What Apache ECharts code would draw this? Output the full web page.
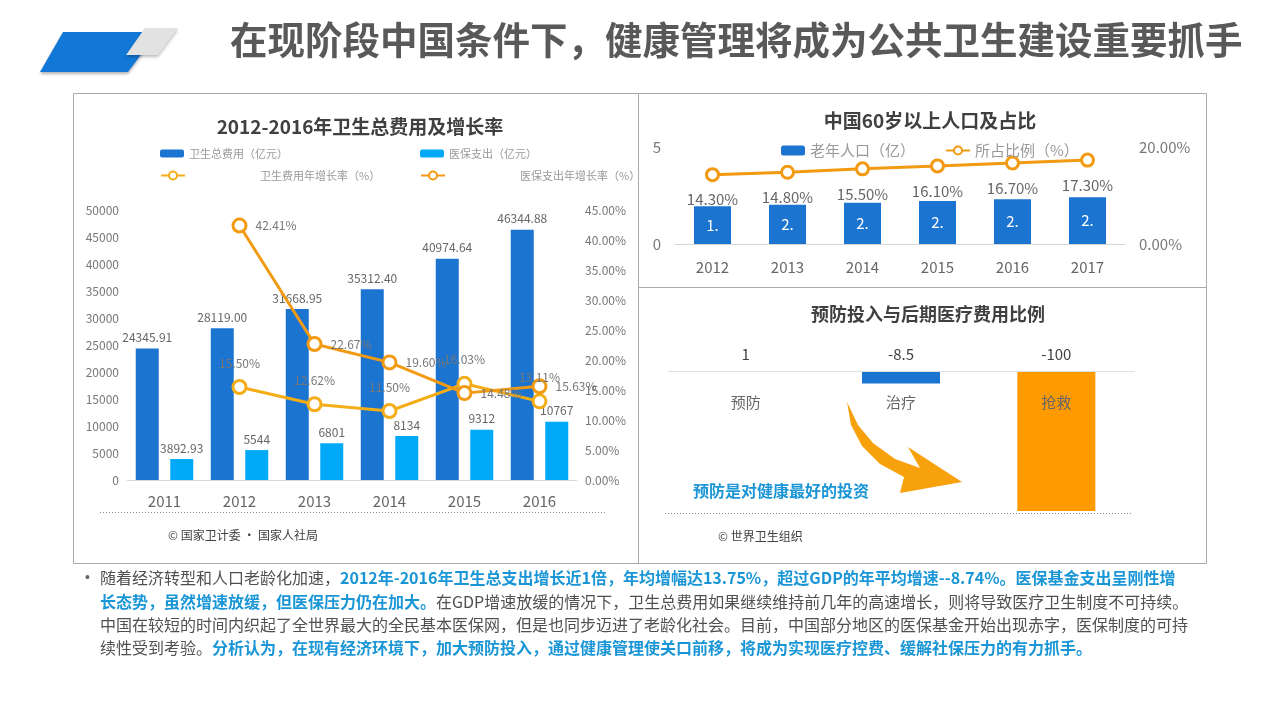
<!DOCTYPE html>
<html><head><meta charset="utf-8">
<script src="https://cdn.jsdelivr.net/npm/echarts@6/dist/echarts.min.js"></script>
<style>html,body{margin:0;padding:0;background:#fff}#c{width:1280px;height:720px}</style>
</head><body><div id="c"></div>
<script>
const years1 = ['2011','2012','2013','2014','2015','2016'];
const totalCost = [24345.91, 28119.00, 31668.95, 35312.40, 40974.64, 46344.88];
const insCost = [3892.93, 5544, 6801, 8134, 9312, 10767];
const costGrowth = [null, 15.50, 12.62, 11.50, 16.03, 13.11];
const insGrowth = [null, 42.41, 22.67, 19.60, 14.48, 15.63];
const leftTicks = [0, 50000];
const rightTicks = [0, 45];

const years2 = ['2012','2013','2014','2015','2016','2017'];
const elderPop = [1.94, 2.02, 2.12, 2.22, 2.31, 2.41];
const elderShare = [14.30, 14.80, 15.50, 16.10, 16.70, 17.30];

const stages = ['预防','治疗','抢救'];
const stageValues = [1, -8.5, -100];

const font = '"Microsoft YaHei","Noto Sans CJK SC",sans-serif';
const chart = echarts.init(document.getElementById('c'));
const blue = '#1b74d0', lblue = '#00aaf8', yel = '#f5ad17', org = '#f19a12';
const TB = '#1a96d6';
const FS = 16;
const rich = {n:{fontSize:FS,fontFamily:font,fill:'#505050'},b:{fontSize:FS,fontWeight:'bold',fontFamily:font,fill:TB}};

chart.setOption({
  textStyle:{fontFamily:font},
  animation:false,
  title:[
    {text:'2012-2016年卫生总费用及增长率',left:355,top:112,textAlign:'center',textStyle:{fontSize:19,fontWeight:'bold',color:'#404040',fontFamily:font}},
    {text:'中国60岁以上人口及占比',left:925,top:106,textAlign:'center',textStyle:{fontSize:19,fontWeight:'bold',color:'#404040',fontFamily:font}},
    {text:'预防投入与后期医疗费用比例',left:923,top:300,textAlign:'center',textStyle:{fontSize:18,fontWeight:'bold',color:'#404040',fontFamily:font}}
  ],
  legend:[
    {left:155,top:143,itemWidth:24,itemHeight:8,data:['卫生总费用（亿元）'],textStyle:{color:'#999',fontSize:11}},
    {left:415,top:143,itemWidth:24,itemHeight:8,data:['医保支出（亿元）'],textStyle:{color:'#999',fontSize:11}},
    {left:155,top:165,itemWidth:24,itemHeight:10,data:['卫生费用年增长率（%）'],textStyle:{color:'#999',fontSize:11,padding:[0,0,0,70]}},
    {left:415,top:165,itemWidth:24,itemHeight:10,data:['医保支出年增长率（%）'],textStyle:{color:'#999',fontSize:11,padding:[0,0,0,70]}},
    {left:776,top:138,itemWidth:24,itemHeight:10,itemGap:30,data:['老年人口（亿）','所占比例（%）'],textStyle:{color:'#999',fontSize:15}}
  ],
  grid:[
    {left:127,width:450,top:210,height:270},
    {left:675,width:450,top:147,height:97},
    {left:668,width:466,top:371.6,height:139.4}
  ],
  xAxis:[
    {gridIndex:0,type:'category',data:years1,axisTick:{show:false},axisLine:{lineStyle:{color:'#d9d9d9'}},axisLabel:{color:'#666',fontSize:15,margin:14}},
    {gridIndex:1,type:'category',data:years2,axisTick:{show:false},axisLine:{lineStyle:{color:'#d9d9d9'}},axisLabel:{color:'#666',fontSize:15,margin:16}},
    {gridIndex:2,type:'category',position:'top',data:stages,z:5,axisTick:{show:false},axisLine:{lineStyle:{color:'#e0e0e0'}},axisLabel:{color:'#666',fontSize:15,margin:-38}},
    {gridIndex:2,type:'category',position:'top',data:stageValues.map(String),axisTick:{show:false},axisLine:{show:false},axisLabel:{color:'#404040',fontSize:15,margin:10}}
  ],
  yAxis:[
    {gridIndex:0,type:'value',min:leftTicks[0],max:leftTicks[1],interval:5000,splitLine:{show:false},axisLabel:{color:'#777',fontSize:12,formatter:v=>String(v)}},
    {gridIndex:0,type:'value',min:rightTicks[0],max:rightTicks[1],interval:5,splitLine:{show:false},axisLabel:{color:'#777',fontSize:12,formatter:v=>v.toFixed(2)+'%'}},
    {gridIndex:1,type:'value',min:0,max:5,interval:5,splitLine:{show:false},axisLabel:{color:'#777',fontSize:15,margin:14}},
    {gridIndex:1,type:'value',min:0,max:20,interval:20,splitLine:{show:false},axisLabel:{color:'#777',fontSize:15,margin:14,formatter:v=>v.toFixed(2)+'%'}},
    {gridIndex:2,type:'value',min:-100,max:0,show:false,splitLine:{show:false}}
  ],
  series:[
    {name:'卫生总费用（亿元）',type:'bar',xAxisIndex:0,yAxisIndex:0,data:totalCost,barWidth:23,barGap:'50%',itemStyle:{color:blue},
      label:{show:true,position:'top',color:'#666',fontSize:12,formatter:p=>p.value.toFixed(2)}},
    {name:'医保支出（亿元）',type:'bar',xAxisIndex:0,yAxisIndex:0,data:insCost,barWidth:23,itemStyle:{color:lblue},
      label:{show:true,position:'top',color:'#666',fontSize:12}},
    {name:'卫生费用年增长率（%）',type:'line',xAxisIndex:0,yAxisIndex:1,data:costGrowth,symbol:'circle',symbolSize:13,
      lineStyle:{color:yel,width:3},itemStyle:{color:'#fff',borderColor:yel,borderWidth:3},
      label:{show:true,position:'top',distance:10,color:'#777',fontSize:12,formatter:p=>p.value.toFixed(2)+'%'}},
    {name:'医保支出年增长率（%）',type:'line',xAxisIndex:0,yAxisIndex:1,data:insGrowth,symbol:'circle',symbolSize:13,
      lineStyle:{color:org,width:3},itemStyle:{color:'#fff',borderColor:org,borderWidth:3},
      label:{show:true,position:'right',distance:8,color:'#777',fontSize:12,formatter:p=>p.value.toFixed(2)+'%'}},
    {name:'老年人口（亿）',type:'bar',xAxisIndex:1,yAxisIndex:2,data:elderPop,barWidth:37,itemStyle:{color:blue},
      label:{show:true,position:'inside',color:'#fff',fontSize:15,formatter:p=>p.value.toFixed(2).slice(0,2)}},
    {name:'所占比例（%）',type:'line',xAxisIndex:1,yAxisIndex:3,data:elderShare,symbol:'circle',symbolSize:12,
      lineStyle:{color:org,width:3},itemStyle:{color:'#fff',borderColor:org,borderWidth:3},
      label:{show:true,position:'bottom',distance:10,color:'#666',fontSize:15,formatter:p=>p.value.toFixed(2)+'%'}},
    {type:'bar',xAxisIndex:2,yAxisIndex:4,barWidth:78,data:stageValues.map((v,i)=>({value:v,itemStyle:{color:['#1b74d0','#1b74d0','#ff9a00'][i]}}))}
  ],
  graphic:[
    {type:'polygon',shape:{points:[[63,32],[158,32],[128,72],[40,72]]},style:{fill:'#1277d6',shadowBlur:3,shadowColor:'rgba(0,0,0,0.3)',shadowOffsetY:2}},
    {type:'polygon',shape:{points:[[145,28],[178,28],[158,55],[126,55]]},style:{fill:'#e2e2e2',shadowBlur:3,shadowColor:'rgba(0,0,0,0.25)',shadowOffsetY:2}},
    {type:'text',x:230,y:21,style:{text:'在现阶段中国条件下，健康管理将成为公共卫生建设重要抓手',fontSize:37.5,fontWeight:'bold',fontFamily:font,fill:'#595959'}},
    {type:'rect',shape:{x:73.5,y:93.5,width:1133,height:470},style:{fill:'none',stroke:'#aaa',lineWidth:1},z:-1},
    {type:'line',shape:{x1:638.5,y1:93,x2:638.5,y2:563},style:{stroke:'#aaa'}},
    {type:'line',shape:{x1:638,y1:287.5,x2:1206,y2:287.5},style:{stroke:'#aaa'}},
    {type:'line',shape:{x1:100,y1:512.5,x2:605,y2:512.5},style:{stroke:'#888',lineDash:[1,2]}},
    {type:'line',shape:{x1:665,y1:513.5,x2:1131,y2:513.5},style:{stroke:'#888',lineDash:[1,2]}},
    {type:'text',x:168,y:529,style:{text:'© 国家卫计委 · 国家人社局',fontSize:12,fontFamily:font,fill:'#404040'}},
    {type:'text',x:718,y:530,style:{text:'© 世界卫生组织',fontSize:12,fontFamily:font,fill:'#404040'}},
    {type:'polygon',shape:{points:[[847,402],[858,425],[873,443],[895,459],[920,468],[908,447],[962,482],[900,493],[904,477],[880,464],[862,446],[851,425]]},
      style:{fill:'#f7a10c'}},
    {type:'text',x:693,y:483,style:{text:'预防是对健康最好的投资',fontSize:16,fontWeight:'bold',fontFamily:font,fill:TB}},
    {type:'text',x:85,y:571,style:{text:'•',fontSize:14,fill:'#666'}},
    {type:'text',x:100,y:570,style:{text:'{n|随着经济转型和人口老龄化加速，}{b|2012年-2016年卫生总支出增长近1倍，年均增幅达13.75%，超过GDP的年平均增速--8.74%。医保基金支出呈刚性增}',rich:rich}},
    {type:'text',x:100,y:594,style:{text:'{b|长态势，虽然增速放缓，但医保压力仍在加大。}{n|在GDP增速放缓的情况下，卫生总费用如果继续维持前几年的高速增长，则将导致医疗卫生制度不可持续。}',rich:rich}},
    {type:'text',x:100,y:617,style:{text:'中国在较短的时间内织起了全世界最大的全民基本医保网，但是也同步迈进了老龄化社会。目前，中国部分地区的医保基金开始出现赤字，医保制度的可持',fontSize:FS,fontFamily:font,fill:'#505050'}},
    {type:'text',x:100,y:640,style:{text:'{n|续性受到考验。}{b|分析认为，在现有经济环境下，加大预防投入，通过健康管理使关口前移，将成为实现医疗控费、缓解社保压力的有力抓手。}',rich:rich}}
  ]
});
</script></body></html>
